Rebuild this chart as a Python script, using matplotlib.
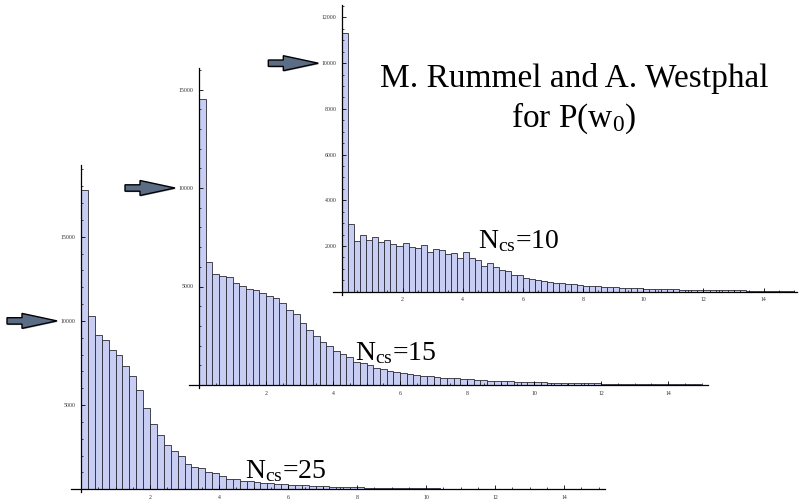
import numpy as np
import matplotlib
matplotlib.use("Agg")
import matplotlib.pyplot as plt
import matplotlib.ticker as ticker
from matplotlib.patches import Polygon

plt.rcParams['mathtext.fontset'] = 'custom'
plt.rcParams['mathtext.rm'] = 'Liberation Serif'
plt.rcParams['mathtext.it'] = 'Liberation Serif:italic'
plt.rcParams['font.family'] = ['Liberation Serif', 'DejaVu Serif']

W, H = 801, 499
BIN = 0.2

# histogram counts, bins of width 0.2 starting at 0
n25 = [17800, 10300, 9150, 8850, 8250, 7950, 7350, 6750, 5900, 4850,
       3900, 3200, 2650, 2250, 1950, 1500, 1350, 1250, 1050, 950,
       800, 620, 620, 520, 500, 420, 400, 360, 320, 300,
       270, 250, 230, 210, 190, 175, 160, 150, 135, 125,
       115, 105, 95, 90, 80, 75, 70, 65, 60, 55,
       52, 48, 45, 42, 40, 38, 35, 33, 30, 28,
       27, 25, 24, 22, 21, 20, 19, 18, 17, 16,
       15, 15, 14, 13, 12]
n15 = [14500, 6250, 5650, 5550, 5500, 5200, 5030, 4850, 4800, 4650,
       4530, 4400, 4150, 3800, 3600, 3130, 2800, 2500, 2170, 2000,
       1730, 1560, 1440, 1180, 1100, 1000, 880, 800, 720, 650,
       600, 560, 520, 480, 440, 410, 380, 350, 330, 300,
       280, 260, 240, 225, 210, 195, 180, 170, 160, 150,
       140, 130, 120, 115, 110, 100, 95, 90, 85, 80,
       75, 70, 66, 62, 58, 55, 52, 50, 47, 45,
       42, 40, 38, 36, 34]
n10 = [11300, 2950, 2200, 2500, 2280, 2380, 2180, 2260, 2100, 2020,
       2150, 1950, 1900, 2060, 1750, 1870, 1840, 1650, 1690, 1480,
       1740, 1480, 1400, 1130, 1270, 1070, 960, 890, 750, 750,
       620, 560, 500, 450, 420, 400, 380, 340, 320, 300,
       260, 250, 240, 220, 200, 190, 175, 165, 150, 145,
       140, 130, 120, 115, 110, 100, 95, 90, 85, 80,
       75, 72, 68, 65, 60, 58, 55, 52, 50, 48,
       45, 42, 40, 38, 36]

labels = ['25', '15', '10']
counts = [n25, n15, n10]

# layout in pixels: origin (x, y), px per x-unit, px per count, limits, y tick step
panels = [
    dict(org=(81, 489.3), sx=34.5, sy=84.2 / 5000, xlim=(-0.3, 15.2), ylim=(-180, 19250), major=5000, minor=1000,
         lab=(245, 478)),
    dict(org=(199, 385), sx=33.5, sy=98.5 / 5000, xlim=(-0.3, 15.2), ylim=(-150, 16100), major=5000, minor=1000,
         lab=(355, 360)),
    dict(org=(342.3, 291.7), sx=30.1, sy=45.7 / 2000, xlim=(-0.3, 15.1), ylim=(-150, 12550), major=2000, minor=500,
         lab=(478, 248)),
]

fig = plt.figure(figsize=(W / 100, H / 100), dpi=100)

axes = []
for i, p in enumerate(panels):
    x0, y0 = p['org']
    left = x0 + p['xlim'][0] * p['sx']
    right = x0 + p['xlim'][1] * p['sx']
    top = y0 - p['ylim'][1] * p['sy']
    bottom = y0 - p['ylim'][0] * p['sy']
    ax = fig.add_axes([left / W, 1 - bottom / H, (right - left) / W, (bottom - top) / H], zorder=i + 1)
    ax.set_facecolor('none')
    vals = np.array(counts[i])
    edges = np.arange(len(vals)) * BIN
    ax.bar(edges, vals, width=BIN, align='edge', color='#c8cdf4', edgecolor='#2a2a35', linewidth=0.6)
    ax.set_xlim(*p['xlim'])
    ax.set_ylim(*p['ylim'])
    for s in ['top', 'right']:
        ax.spines[s].set_visible(False)
    ax.spines['left'].set_position(('data', 0))
    ax.spines['bottom'].set_position(('data', 0))
    ax.spines['left'].set_linewidth(0.9)
    ax.spines['bottom'].set_linewidth(0.9)
    ax.xaxis.set_major_locator(ticker.FixedLocator([2, 4, 6, 8, 10, 12, 14]))
    ax.xaxis.set_minor_locator(ticker.MultipleLocator(0.5))
    ax.yaxis.set_major_locator(ticker.MultipleLocator(p['major']))
    ax.yaxis.set_minor_locator(ticker.MultipleLocator(p['minor']))
    ax.yaxis.set_major_formatter(ticker.FuncFormatter(lambda v, pos: '' if v <= 0 else '%d' % v))
    ax.tick_params(which='major', direction='in', length=3, width=0.6, labelsize=4.2, labelcolor='#333333', pad=4)
    ax.tick_params(which='minor', direction='in', length=1.6, width=0.5)
    axes.append(ax)

# overlay in pixel coordinates for arrows and text
ov = fig.add_axes([0, 0, 1, 1], zorder=10)
ov.set_xlim(0, W)
ov.set_ylim(H, 0)
ov.axis('off')
ov.set_facecolor('none')

for ax in axes:
    tx, ty = ax.transData.transform((0, 10000))
    ty = H - ty
    tx = tx - 24
    pts = [(tx - 50, ty - 3.2), (tx - 35, ty - 3.2), (tx - 35, ty - 7.5), (tx, ty),
           (tx - 35, ty + 7.5), (tx - 35, ty + 3.2), (tx - 50, ty + 3.2)]
    ov.add_patch(Polygon([(x + 1, y + 1) for x, y in pts], closed=True, facecolor='#b0b0b0', edgecolor='none'))
    ov.add_patch(Polygon(pts, closed=True, facecolor='#5b6d85', edgecolor='black', linewidth=1.0))

for p, lab in zip(panels, labels):
    ov.text(p['lab'][0], p['lab'][1], r'$\mathrm{N}_{\mathrm{cs}}$=' + lab, fontsize=20,
            ha='left', va='baseline')

ov.text(574, 87, 'M. Rummel and A. Westphal', fontsize=24, ha='center', va='baseline')
ov.text(574, 127, r'for P(w$_0$)', fontsize=24, ha='center', va='baseline')

plt.savefig('out.png', dpi=100)
plt.close(fig)
